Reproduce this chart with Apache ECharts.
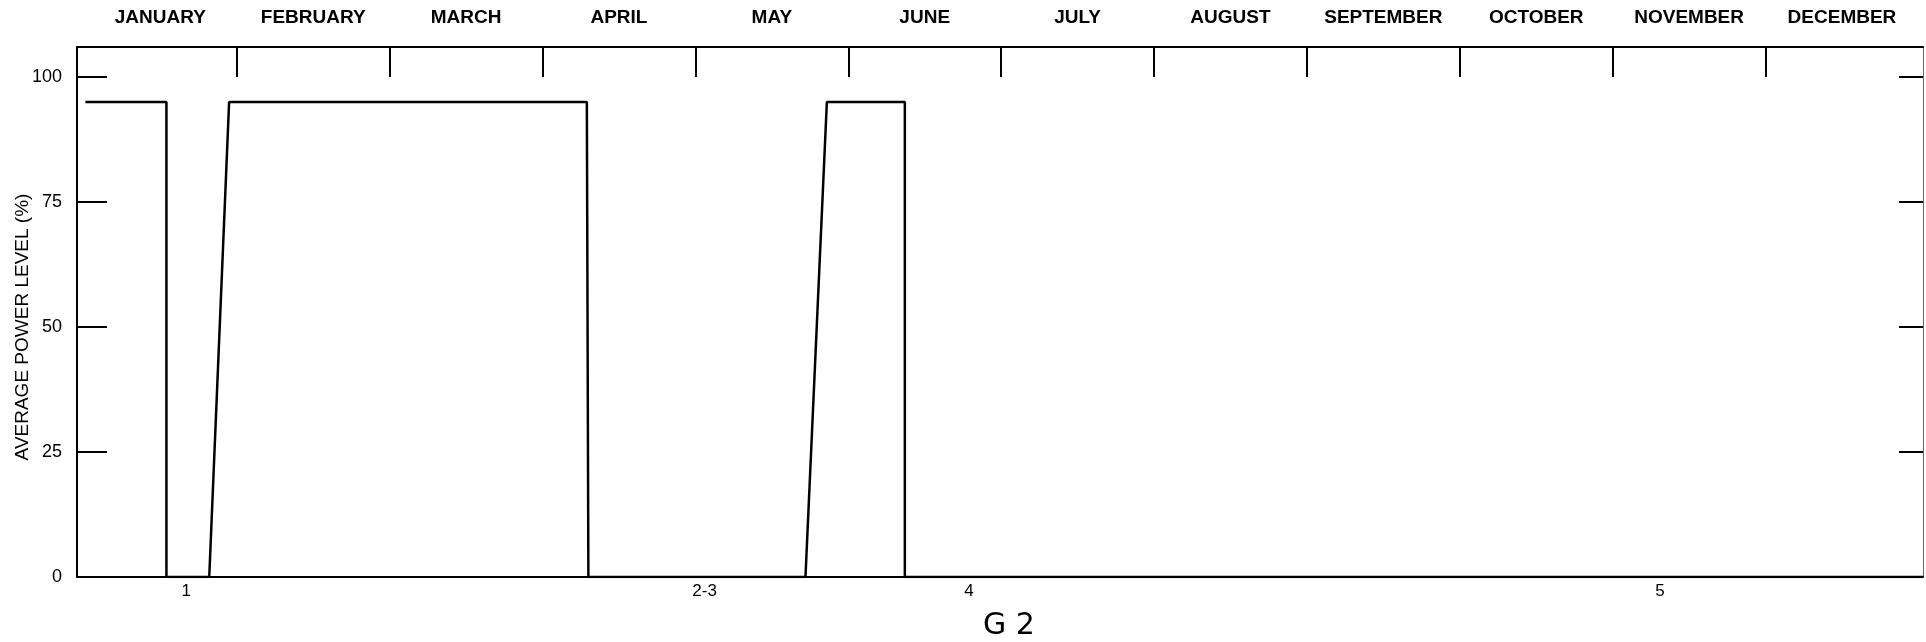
<!DOCTYPE html>
<html>
<head>
<meta charset="utf-8">
<script src="https://cdn.jsdelivr.net/npm/echarts@6/dist/echarts.min.js"></script>
<style>
  html, body { margin: 0; padding: 0; background: #fff; }
  #chart { width: 1926px; height: 642px; }
</style>
</head>
<body>
<div id="chart"></div>
<script>
// month names across the top, ticks at month boundaries (x in months from Jan 1)
const months = ['JANUARY', 'FEBRUARY', 'MARCH', 'APRIL', 'MAY', 'JUNE',
  'JULY', 'AUGUST', 'SEPTEMBER', 'OCTOBER', 'NOVEMBER', 'DECEMBER'];
const monthTicks = [1, 2, 3, 4, 5, 6, 7, 8, 9, 10, 11];
const monthMids = [0.5, 1.5, 2.5, 3.5, 4.5, 5.5, 6.5, 7.5, 8.5, 9.5, 10.5, 11.5];

// event markers under the plot
const eventLabels = ['1', '2-3', '4', '5'];
const eventPos = [0.67, 4.06, 5.79, 10.31];

// power history (month position, % level)
const stepMonths = [0.01, 0.54, 0.54, 0.82, 0.95, 3.29, 3.30, 4.72, 4.86, 5.37, 5.37, 12.03];
const stepLevels = [95, 95, 0, 0, 95, 95, 0, 0, 95, 95, 0, 0];

const yTicks = [0, 25, 50, 75, 100];

const chart = echarts.init(document.getElementById('chart'));

const points = stepMonths.map((m, i) => [m, stepLevels[i]]);
const font = 'Liberation Sans, Arial, sans-serif';

chart.setOption({
  animation: false,
  backgroundColor: '#fff',
  title: {
    text: 'G 2',
    left: 978,
    top: 606,
    textStyle: { fontSize: 30, fontWeight: 'normal', color: '#000', fontFamily: 'DejaVu Sans, sans-serif' }
  },
  grid: { left: 77, right: 3, top: 47, bottom: 65, outerBoundsMode: 'none' },
  xAxis: [
    {
      type: 'value',
      min: -0.045,
      max: 12.03,
      position: 'bottom',
      axisLine: { show: true, onZero: false, lineStyle: { color: '#000', width: 2 } },
      axisTick: { show: false },
      splitLine: { show: false },
      axisLabel: {
        customValues: eventPos,
        formatter: (v) => eventLabels[eventPos.indexOf(v)],
        color: '#000',
        fontSize: 17,
        fontFamily: font,
        margin: 6
      }
    },
    {
      type: 'value',
      min: -0.045,
      max: 12.03,
      position: 'top',
      axisLine: { show: true, onZero: false, lineStyle: { color: '#000', width: 2 } },
      axisTick: {
        show: true,
        inside: true,
        length: 30,
        customValues: monthTicks,
        lineStyle: { color: '#000', width: 2 }
      },
      splitLine: { show: false },
      axisLabel: {
        customValues: monthMids,
        formatter: (v) => months[Math.floor(v)],
        color: '#000',
        fontSize: 19,
        fontWeight: 'bold',
        fontFamily: font,
        margin: 20
      }
    }
  ],
  yAxis: [
    {
      type: 'value',
      min: 0,
      max: 106,
      position: 'left',
      name: 'AVERAGE POWER LEVEL (%)',
      nameLocation: 'middle',
      nameGap: 45,
      nameMoveOverlap: false,
      nameRotate: 90,
      nameTextStyle: { color: '#000', fontSize: 19, fontFamily: font, padding: [0, 30, 0, 0] },
      axisLine: { show: true, onZero: false, lineStyle: { color: '#000', width: 2 } },
      axisTick: {
        show: true,
        inside: true,
        length: 30,
        customValues: yTicks,
        lineStyle: { color: '#000', width: 2 }
      },
      splitLine: { show: false },
      axisLabel: {
        customValues: yTicks,
        color: '#000',
        fontSize: 18,
        fontFamily: font,
        margin: 15
      }
    },
    {
      type: 'value',
      min: 0,
      max: 106,
      position: 'right',
      axisLine: { show: true, onZero: false, lineStyle: { color: '#666', width: 1 } },
      axisTick: {
        show: true,
        inside: true,
        length: 24,
        customValues: yTicks,
        lineStyle: { color: '#000', width: 2 }
      },
      splitLine: { show: false },
      axisLabel: { show: false }
    }
  ],
  series: [
    {
      type: 'line',
      xAxisIndex: 0,
      yAxisIndex: 0,
      data: points,
      symbol: 'none',
      lineStyle: { color: '#000', width: 2.5 }
    }
  ]
});
</script>
</body>
</html>
